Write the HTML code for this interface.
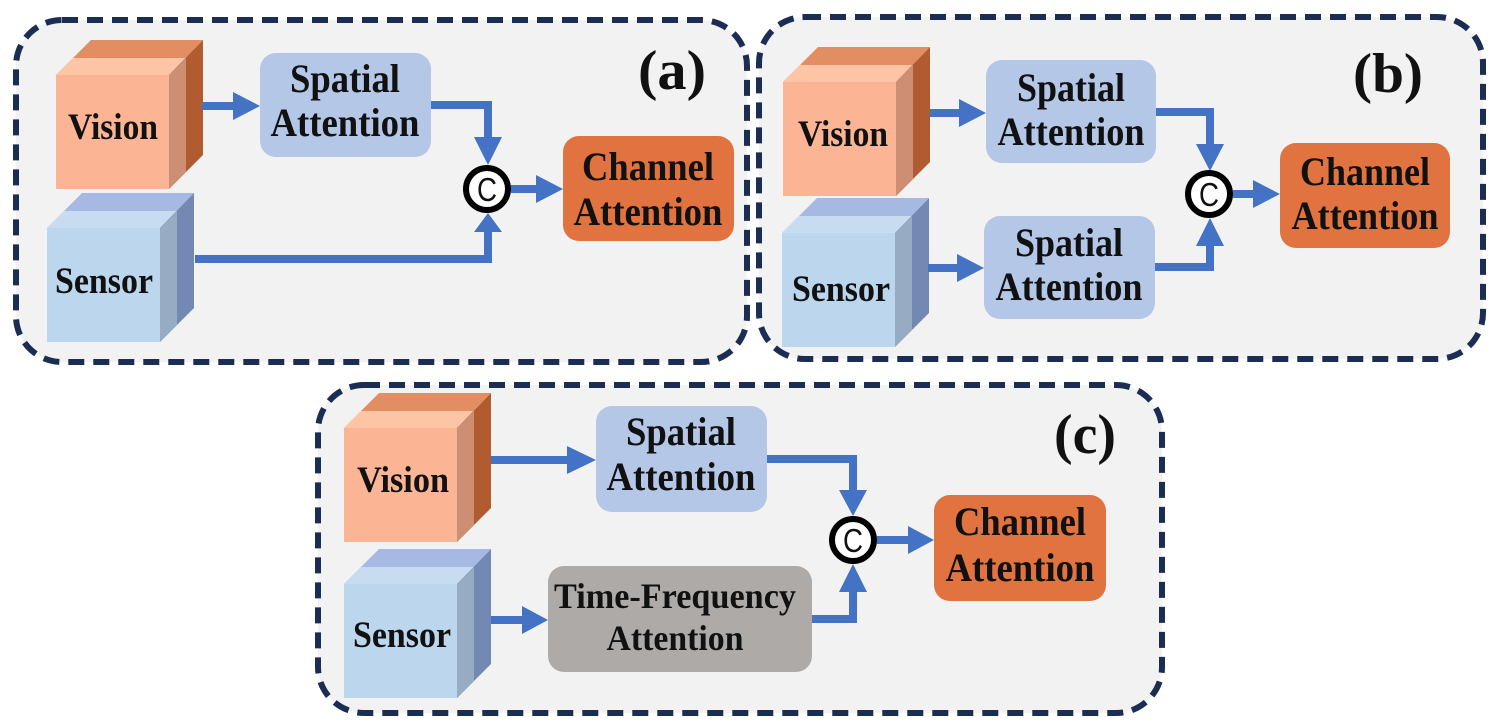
<!DOCTYPE html>
<html><head><meta charset="utf-8"><style>
html,body{margin:0;padding:0;background:#fff}
svg{display:block}
text{font-family:"Liberation Serif",serif;font-weight:bold;fill:#111}
</style></head><body>
<svg width="1494" height="725" viewBox="0 0 1494 725" xmlns="http://www.w3.org/2000/svg">
<defs>
<g id="vcube">
<polygon points="0,0 35,-35 147,-35 113,0" fill="#e38e62"/>
<polygon points="0,0 17,-17 130,-17 113,0" fill="#fdc4a6"/>
<polygon points="113,0 147,-35 147,80 113,114" fill="#b05c30"/>
<polygon points="113,0 130,-17 130,97 113,114" fill="#cd8e73"/>
<rect x="0" y="0" width="113" height="114" fill="#fbb594"/>
</g>
<g id="scube">
<polygon points="0,0 35,-35 147,-35 113,0" fill="#a5b9e2"/>
<polygon points="0,0 17,-17 130,-17 113,0" fill="#c8dcf1"/>
<polygon points="113,0 147,-35 147,80 113,114" fill="#7389b3"/>
<polygon points="113,0 130,-17 130,97 113,114" fill="#97abc2"/>
<rect x="0" y="0" width="113" height="114" fill="#bcd6ee"/>
</g>
</defs>
<g fill="none" stroke="#1b2d52" stroke-width="6" stroke-dasharray="16,9">
<rect x="16" y="20" width="731" height="342" rx="46" fill="#f2f2f2"/>
<rect x="759" y="17" width="724" height="342" rx="46" fill="#f2f2f2"/>
<rect x="318" y="385" width="844" height="328" rx="46" fill="#f2f2f2"/>
</g>

<!-- Panel a -->
<use href="#vcube" x="56" y="75"/>
<use href="#scube" x="47" y="228"/>
<rect x="260" y="53" width="171" height="104" rx="16" fill="#b4c7e7"/>
<rect x="563" y="136" width="171" height="105" rx="16" fill="#e07340"/>
<g stroke="#4472c4" stroke-width="8" fill="none">
<path d="M202,106 H236"/>
<path d="M431,105 H488 V140"/>
<path d="M195,259 H488 V229"/>
<path d="M511,189 H538"/>
</g>
<g fill="#4472c4">
<polygon points="233,92 260,106 233,120"/>
<polygon points="474,137 502,137 488,165"/>
<polygon points="474,232 502,232 488,213"/>
<polygon points="536,175 563,189 536,203"/>
</g>
<circle cx="487" cy="189" r="21" fill="#fff" stroke="#000" stroke-width="6"/>
<text x="487" y="201" text-anchor="middle" style="font-family:'Liberation Sans',sans-serif;font-weight:normal;font-size:33px" textLength="20" lengthAdjust="spacingAndGlyphs">C</text>
<text x="113" y="139" text-anchor="middle" font-size="37" textLength="90" lengthAdjust="spacingAndGlyphs">Vision</text>
<text x="104" y="293" text-anchor="middle" font-size="37" textLength="98" lengthAdjust="spacingAndGlyphs">Sensor</text>
<text x="345" y="92" text-anchor="middle" font-size="40" textLength="110" lengthAdjust="spacingAndGlyphs">Spatial</text>
<text x="345" y="136" text-anchor="middle" font-size="40" textLength="149" lengthAdjust="spacingAndGlyphs">Attention</text>
<text x="648" y="180" text-anchor="middle" font-size="40" textLength="132" lengthAdjust="spacingAndGlyphs">Channel</text>
<text x="648" y="225" text-anchor="middle" font-size="40" textLength="149" lengthAdjust="spacingAndGlyphs">Attention</text>
<text x="672" y="89" text-anchor="middle" font-size="56" textLength="68" lengthAdjust="spacingAndGlyphs">(a)</text>

<!-- Panel b -->
<use href="#vcube" x="783" y="82"/>
<use href="#scube" x="782" y="233"/>
<rect x="986" y="60" width="170" height="103" rx="16" fill="#b4c7e7"/>
<rect x="984" y="216" width="171" height="103" rx="16" fill="#b4c7e7"/>
<rect x="1280" y="143" width="170" height="105" rx="16" fill="#e07340"/>
<g stroke="#4472c4" stroke-width="8" fill="none">
<path d="M930,113 H962"/>
<path d="M1156,112 H1210 V146"/>
<path d="M928,268 H962"/>
<path d="M1155,267 H1210 V244"/>
<path d="M1233,194 H1256"/>
</g>
<g fill="#4472c4">
<polygon points="959,99 986,113 959,127"/>
<polygon points="1196,144 1224,144 1210,171"/>
<polygon points="957,254 984,268 957,282"/>
<polygon points="1196,246 1224,246 1210,218"/>
<polygon points="1253,180 1280,194 1253,208"/>
</g>
<circle cx="1209" cy="194" r="21" fill="#fff" stroke="#000" stroke-width="6"/>
<text x="1209" y="206" text-anchor="middle" style="font-family:'Liberation Sans',sans-serif;font-weight:normal;font-size:33px" textLength="20" lengthAdjust="spacingAndGlyphs">C</text>
<text x="843" y="146" text-anchor="middle" font-size="37" textLength="90" lengthAdjust="spacingAndGlyphs">Vision</text>
<text x="841" y="301" text-anchor="middle" font-size="37" textLength="98" lengthAdjust="spacingAndGlyphs">Sensor</text>
<text x="1071" y="101" text-anchor="middle" font-size="40" textLength="108" lengthAdjust="spacingAndGlyphs">Spatial</text>
<text x="1071" y="145" text-anchor="middle" font-size="40" textLength="147" lengthAdjust="spacingAndGlyphs">Attention</text>
<text x="1069" y="256" text-anchor="middle" font-size="40" textLength="108" lengthAdjust="spacingAndGlyphs">Spatial</text>
<text x="1069" y="300" text-anchor="middle" font-size="40" textLength="147" lengthAdjust="spacingAndGlyphs">Attention</text>
<text x="1365" y="185" text-anchor="middle" font-size="40" textLength="130" lengthAdjust="spacingAndGlyphs">Channel</text>
<text x="1365" y="229" text-anchor="middle" font-size="40" textLength="147" lengthAdjust="spacingAndGlyphs">Attention</text>
<text x="1388" y="92" text-anchor="middle" font-size="56" textLength="70" lengthAdjust="spacingAndGlyphs">(b)</text>

<!-- Panel c -->
<use href="#vcube" x="344" y="428"/>
<use href="#scube" x="344" y="584"/>
<rect x="596" y="406" width="171" height="106" rx="16" fill="#b4c7e7"/>
<rect x="548" y="566" width="264" height="106" rx="16" fill="#aeaaa8"/>
<rect x="934" y="495" width="172" height="106" rx="16" fill="#e07340"/>
<g stroke="#4472c4" stroke-width="8" fill="none">
<path d="M491,460 H570"/>
<path d="M767,459 H853 V492"/>
<path d="M491,620 H525"/>
<path d="M812,619 H853 V590"/>
<path d="M877,540 H910"/>
</g>
<g fill="#4472c4">
<polygon points="567,446 596,460 567,474"/>
<polygon points="839,490 867,490 853,516"/>
<polygon points="522,606 548,620 522,634"/>
<polygon points="839,592 867,592 853,564"/>
<polygon points="908,526 934,540 908,554"/>
</g>
<circle cx="853" cy="540" r="21" fill="#fff" stroke="#000" stroke-width="6"/>
<text x="853" y="552" text-anchor="middle" style="font-family:'Liberation Sans',sans-serif;font-weight:normal;font-size:33px" textLength="20" lengthAdjust="spacingAndGlyphs">C</text>
<text x="403" y="492" text-anchor="middle" font-size="37" textLength="92" lengthAdjust="spacingAndGlyphs">Vision</text>
<text x="402" y="647" text-anchor="middle" font-size="37" textLength="98" lengthAdjust="spacingAndGlyphs">Sensor</text>
<text x="681" y="445" text-anchor="middle" font-size="40" textLength="110" lengthAdjust="spacingAndGlyphs">Spatial</text>
<text x="681" y="490" text-anchor="middle" font-size="40" textLength="149" lengthAdjust="spacingAndGlyphs">Attention</text>
<text x="675" y="608" text-anchor="middle" font-size="36" textLength="242" lengthAdjust="spacingAndGlyphs">Time-Frequency</text>
<text x="675" y="650" text-anchor="middle" font-size="36" textLength="137" lengthAdjust="spacingAndGlyphs">Attention</text>
<text x="1020" y="535" text-anchor="middle" font-size="40" textLength="132" lengthAdjust="spacingAndGlyphs">Channel</text>
<text x="1020" y="581" text-anchor="middle" font-size="40" textLength="149" lengthAdjust="spacingAndGlyphs">Attention</text>
<text x="1085" y="453" text-anchor="middle" font-size="56" textLength="62" lengthAdjust="spacingAndGlyphs">(c)</text>
</svg>
</body></html>
